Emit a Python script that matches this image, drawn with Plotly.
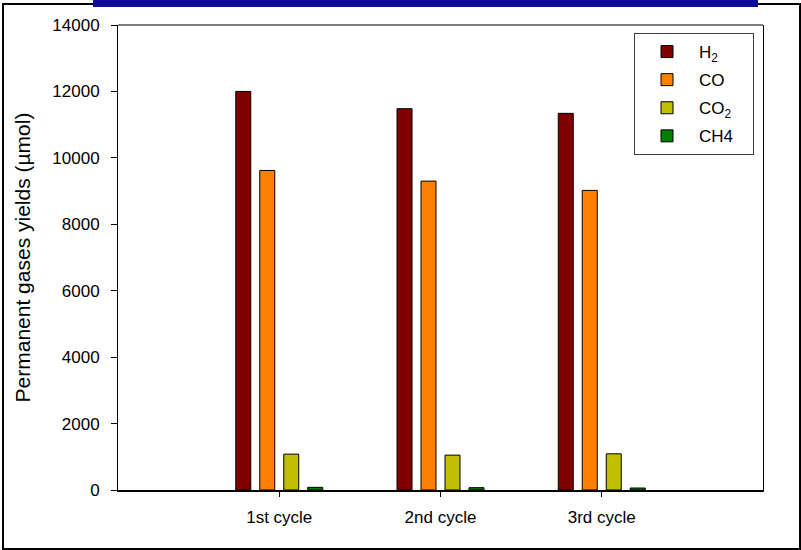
import plotly.graph_objects as go

categories = ["1st cycle", "2nd cycle", "3rd cycle"]
h2 = [12000, 11480, 11340]
co = [9620, 9300, 9020]
co2 = [1080, 1050, 1090]
ch4 = [80, 70, 60]

series = [
    ("H<sub>2</sub>", h2, "#800000"),
    ("CO", co, "#FF8000"),
    ("CO<sub>2</sub>", co2, "#C0C000"),
    ("CH4", ch4, "#008000"),
]

FONT = "Liberation Sans, Arial, sans-serif"
PAD = "\u00a0" * 3

fig = go.Figure()
for i, (name, vals, color) in enumerate(series):
    fig.add_trace(go.Bar(
        x=categories, y=vals, name=name + PAD,
        marker=dict(color=color, line=dict(color="black", width=1)),
        legendgroup="g%d" % i,
    ))

# plot area in pixels: x 118..763, y 25..490
L, R, T, B = 118, 763, 25, 490
W, H = R - L, B - T
def px(x):
    return (x - L) / W
def py(y):
    return (B - y) / H

shapes = [
    # outer frame
    dict(type="rect", xref="paper", yref="paper",
         x0=px(3), x1=px(800), y0=py(549), y1=py(4),
         line=dict(color="black", width=2), fillcolor="rgba(0,0,0,0)", layer="below"),
    # blue header bar
    dict(type="rect", xref="paper", yref="paper",
         x0=px(93), x1=px(758), y0=py(7), y1=py(0),
         line=dict(width=0), fillcolor="#0c0c94", layer="above"),
    # top border of plot
    dict(type="line", xref="paper", yref="paper", x0=0, x1=1, y0=1, y1=1,
         line=dict(color="black", width=1)),
]

fig.update_layout(
    width=801, height=550,
    margin=dict(l=L, r=801 - R, t=T, b=550 - B),
    paper_bgcolor="white", plot_bgcolor="white",
    font=dict(family=FONT, color="black", size=17),
    barmode="group", bargap=0.405, bargroupgap=0.375,
    showlegend=True,
    legend=dict(
        x=px(634), y=py(33), xanchor="left", yanchor="top",
        bgcolor="white", bordercolor="#404040", borderwidth=1,
        font=dict(family=FONT, size=17, color="black"),
        itemwidth=54, tracegroupgap=3, traceorder="grouped",
    ),
    shapes=shapes,
    xaxis=dict(
        range=[-1, 3], showline=True, linecolor="black", linewidth=2,
        ticks="outside", ticklen=5, tickcolor="black", tickwidth=1,
        showgrid=False, zeroline=False, ticklabelstandoff=6,
        tickfont=dict(size=17),
    ),
    yaxis=dict(
        range=[0, 14000], dtick=2000, tick0=0, tickformat="d",
        showline=True, linecolor="black", linewidth=1, mirror=True,
        ticks="outside", ticklen=6, tickcolor="black", tickwidth=1,
        showgrid=False, zeroline=False, ticklabelstandoff=8,
        tickfont=dict(size=17),
        title=dict(text="Permanent gases yields (\u00b5mol)", font=dict(size=21), standoff=15),
    ),
)

fig.write_html("out.html", config={"displayModeBar": False},
               post_script="document.body.style.margin='0px';")
